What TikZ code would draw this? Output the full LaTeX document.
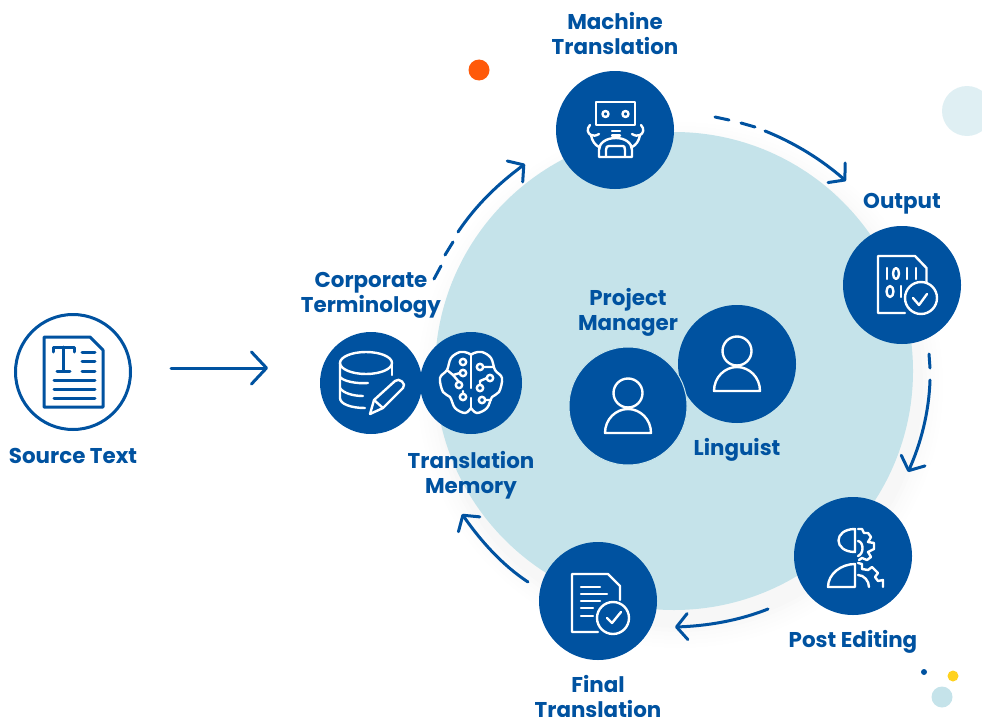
\documentclass[tikz,border=0pt]{standalone}
\usepackage{fontspec}
\setmainfont{Poppins}
\usetikzlibrary{arrows.meta}
\definecolor{navy}{HTML}{0052A0}
\definecolor{pale}{HTML}{C5E3EA}
\definecolor{ghost}{HTML}{DFEFF3}
\definecolor{dotorange}{HTML}{FF5A0A}
\definecolor{dotyellow}{HTML}{FFD21E}
\tikzset{
  disc/.style={circle,fill=navy,inner sep=0pt,minimum size=118pt},
  smalldisc/.style={circle,fill=navy,inner sep=0pt,minimum size=102pt},
  label/.style={text=navy,font=\fontsize{21.4}{25}\selectfont\bfseries,align=center,inner sep=0pt},
  flow/.style={draw=navy,line width=3pt,line cap=round,-{Straight Barb[length=11pt,width=26pt,line width=3pt,round]}},
  mainflow/.style={draw=navy,line width=3pt,line cap=round,-{Straight Barb[length=15pt,width=32pt,line width=3pt,round]}},
  dashpart/.style={draw=navy,line width=3pt,line cap=round},
  ico/.style={draw=white,line width=2.4pt,line cap=round,line join=round},
  doc/.style={draw=navy,line width=3pt,line cap=round,line join=round}
}
\begin{document}
\begin{tikzpicture}[x=1pt,y=-1pt]
\useasboundingbox (0,0) rectangle (982,717);
% shadow
\foreach \r/\o in {24/.004,20/.004,16/.005,12/.005,8/.006,4/.006}{
  \fill[black,opacity=\o] (680,385) circle ({239+\r});
}
\node[circle,fill=pale,inner sep=0pt,minimum size=478pt] (big) at (674,371) {};
% decorative dots
\node[circle,fill=dotorange,inner sep=0pt,minimum size=21pt] (d1) at (479,70) {};
\node[circle,fill=ghost,inner sep=0pt,minimum size=50pt] (d2) at (967,111) {};
\node[circle,fill=navy,inner sep=0pt,minimum size=6pt] (d3) at (924,672) {};
\node[circle,fill=dotyellow,inner sep=0pt,minimum size=11pt] (d4) at (953,676) {};
\node[circle,fill=pale,inner sep=0pt,minimum size=21pt] (d5) at (942,697) {};
% source
\node[circle,draw=navy,line width=3pt,fill=white,inner sep=0pt,minimum size=115pt] (src) at (73,372) {};
\node[label] (srcl) at (73,456) {Source Text};
% discs
\node[disc] (mt) at (615,130) {};
\node[disc] (out) at (902,285) {};
\node[disc] (post) at (853,556) {};
\node[disc] (final) at (598,601) {};
\node[smalldisc] (db) at (371,383) {};
\node[smalldisc] (tm) at (471,383) {};
\node[disc] (ling) at (737,364) {};
\node[disc,draw=pale,line width=1pt] (pm) at (628,406) {};
% labels
\node[label] (l1) at (615,34) {Machine\\Translation};
\node[label] (l2) at (902,204) {Output};
\node[label] (l3) at (853,642) {Post Editing};
\node[label,anchor=north] (l4) at (598,675) {Final\\Translation};
\node[label] (l5) at (371,295.5) {Corporate\\Terminology};
\node[label] (l6) at (471,475) {Translation\\Memory};
\node[label] (l7) at (628,312) {Project\\Manager};
\node[label] (l8) at (737,450) {Linguist};
% connectors
\coordinate (a0) at (171,368); \coordinate (a1) at (268,368);
\draw[mainflow] (a0) -- (a1);
\coordinate (b0) at (434,279); \coordinate (b1) at (441,266); \coordinate (b2) at (445,255); \coordinate (b3) at (453,242); \coordinate (b4) at (458,232); \coordinate (b5) at (525,164);
\draw[dashpart] (b0) -- (b1);
\draw[dashpart] (b2) -- (b3);
\draw[flow] (b4) .. controls (476,205) and (498,184) .. (b5);
\coordinate (c0) at (715,117); \coordinate (c1) at (729,120); \coordinate (c2) at (741,123); \coordinate (c3) at (755,127); \coordinate (c4) at (765,131); \coordinate (c5) at (846,181);
\draw[dashpart] (c0) -- (c1);
\draw[dashpart] (c2) -- (c3);
\draw[flow] (c4) .. controls (795,143) and (822,160) .. (c5);
\coordinate (e0) at (929,354); \coordinate (e1) at (930,368); \coordinate (e2) at (930,380); \coordinate (e3) at (908,472);
\draw[dashpart] (e0) -- (e1);
\draw[flow] (e2) .. controls (929,412) and (921,443) .. (e3);
\coordinate (f0) at (768,609); \coordinate (f1) at (675,627);
\draw[flow] (f0) .. controls (738,621) and (706,626) .. (f1);
\coordinate (g0) at (528,582); \coordinate (g1) at (462,514);
\draw[flow] (g0) .. controls (502,565) and (480,540) .. (g1);
% source icon
\begin{scope}[shift={(src.center)}]
\draw[doc] (-29,-35) -- (17,-35) -- (30,-22) -- (30,35) -- (-29,35) -- cycle;
\draw[doc] (-20,-20) -- (-20,-25) -- (1,-25) -- (1,-20) (-9.5,-25) -- (-9.5,-1) (-16,-1) -- (-3,-1);
\draw[doc] (9,-20) -- (22,-20) (9,-11) -- (22,-11) (9,-1) -- (22,-1);
\draw[doc] (-19,8) -- (22,8) (-19,17) -- (22,17) (-19,26) -- (22,26);
\end{scope}
% db icon
\begin{scope}[shift={(db.center)}]
\draw[ico] (-5,-20) ellipse (26 and 11);
\draw[ico] (-31,-20) -- (-31,15) .. controls (-31,21) and (-20,25) .. (-6,25);
\draw[ico] (21,-20) -- (21,-8);
\draw[ico] (-31,-6) .. controls (-28,-2) and (-15,1) .. (-3,0);
\draw[ico] (-31,5) .. controls (-28,10) and (-18,13) .. (-8,13);
\draw[ico] (-1,31) -- (3,17) -- (24,-2) .. controls (28,-6) and (36,1) .. (32,5) -- (12,25) -- cycle;
\draw[ico] (3,17) -- (12,25);
\end{scope}
% brain icon
\begin{scope}[shift={(tm.center)}]
\draw[ico] plot[smooth,tension=.6] coordinates {(0,-28) (-3,-30) (-11,-31) (-20,-25) (-24,-13) (-31,-5) (-28,9) (-21,14) (-16,25) (-6,30) (0,25)};
\draw[ico] plot[smooth,tension=.6] coordinates {(0,-28) (3,-30) (11,-31) (20,-25) (24,-13) (31,-5) (28,9) (21,14) (16,25) (6,30) (0,25)};
\draw[ico] (0,-28) -- (0,5) (0,15) -- (0,25);
\foreach \x/\y in {-8/-21,-8/-10,-12/2,-8/14,9/-16,19/-5,9/5,11/17}{\draw[ico] (\x,\y) circle (3.2);}
\draw[ico] (-11,-10) -- (-18,-8) -- (-24,-13) (-12,-1) -- (-18,-8) (12,-16) -- (22,-16) (16,-5) -- (9,-2) -- (9,2) (-8,11) -- (-8,8) (14,17) -- (20,17);
\end{scope}
% robot icon
\begin{scope}[shift={(mt.center)}]
\draw[ico] (-19,-28) rectangle (20,-5);
\draw[ico] (-9.5,-16) circle (3) (10.5,-16) circle (3);
\draw[ico] (-3,1) -- (5,1) (-3,5.5) -- (5,5.5);
\draw[ico] (-16,27) -- (-16,20) .. controls (-16,13) and (-9,8) .. (1,8) .. controls (10,8) and (17,13) .. (17,20) -- (17,27) -- cycle;
\draw[ico] (-9,27) -- (-9,20) .. controls (-9,17) and (-8,16) .. (-6,16) -- (8,16) .. controls (9,16) and (10,17) .. (10,20) -- (10,27);
\draw[ico] (-25,-5) .. controls (-29,-1) and (-27,4) .. (-24,5) .. controls (-22,6) and (-19,6) .. (-16,4);
\draw[ico] (-24,5) .. controls (-23,11) and (-20,15) .. (-16,17);
\draw[ico] (26,-5) .. controls (30,-1) and (28,4) .. (25,5) .. controls (23,6) and (20,6) .. (17,4);
\draw[ico] (25,5) .. controls (24,11) and (21,15) .. (17,17);
\end{scope}
% output icon
\begin{scope}[shift={(out.center)}]
\draw[ico] (3,28) -- (-24,28) -- (-24,-29) -- (13,-29) -- (24.5,-17) -- (24.5,-2);
\draw[ico] (-15,-17) -- (-15,-6) (5,-17) -- (5,-6) (14,-17) -- (14,-6);
\draw[ico] (-6,-11.5) ellipse (3 and 5.5);
\draw[ico] (-12,6.5) ellipse (3.5 and 5.5);
\draw[ico] (-1,1) -- (-1,12);
\draw[ico] (19,13) circle (16);
\draw[ico] (11,13) -- (17,20) -- (25,9);
\end{scope}
% post editing icon
\begin{scope}[shift={(post.center)}]
\draw[ico] (2,-27) .. controls (-20,-27) and (-20,-4) .. (2,-4) -- cycle;
\draw[ico] (-25,31) .. controls (-25,18) and (-12,8) .. (2,8) -- (2,31) -- cycle;
\draw[ico] (5,-27) -- (9,-27) -- (11,-23) -- (15,-23) -- (18,-19) -- (15,-14) -- (21,-13) -- (21,-7) -- (15,-4) -- (18,1) -- (14,4) -- (9,2) -- (6,4);
\draw[ico] (5,-15) .. controls (11,-14) and (11,-2) .. (5,0);
\draw[ico] (5,7) -- (9,8) -- (9,13) -- (15,14) -- (19,11) -- (25,17) -- (22,21) -- (25,25) -- (30,24) -- (30,31);
\draw[ico] (5,19) .. controls (11,19) and (16,25) .. (16,31);
\end{scope}
% final icon
\begin{scope}[shift={(final.center)}]
\draw[ico] (0,31) -- (-26,31) -- (-26,-27) -- (10,-27) -- (22,-15) -- (22,-1);
\draw[ico] (-17,-14) -- (2,-14) (-17,-7) -- (9,-7) (-17,0) -- (2,0) (-17,7) -- (-5,7) (-17,15) -- (-5,15);
\draw[ico] (15,17) circle (16);
\draw[ico] (9,17) -- (14,22) -- (23,11);
\end{scope}
% person icons
\foreach \n in {ling,pm}{
\begin{scope}[shift={(\n.center)}]
\draw[ico] (0,-13) circle (14.5);
\draw[ico] (-23,27) .. controls (-23,13) and (-12,3) .. (0,3) .. controls (12,3) and (23,13) .. (23,27) -- cycle;
\end{scope}}
\end{tikzpicture}
\end{document}
